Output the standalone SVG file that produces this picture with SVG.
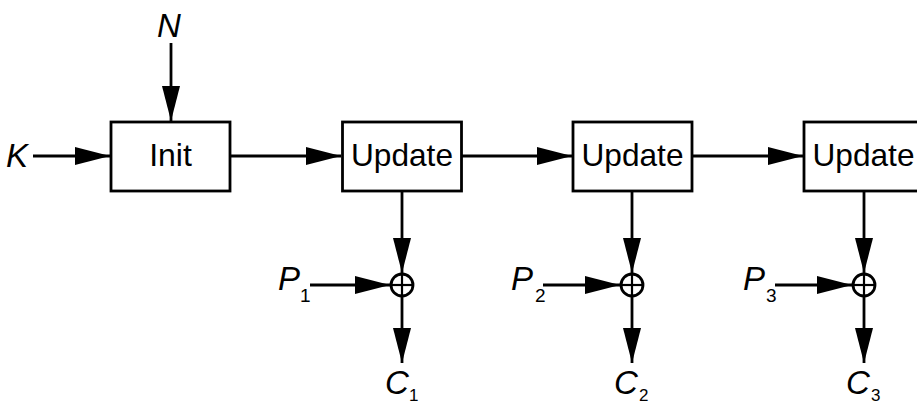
<svg xmlns="http://www.w3.org/2000/svg" width="917" height="406" viewBox="0 0 917 406">
<style>
.box{fill:#fff;stroke:#000;stroke-width:2.8}
.lbl{font-family:"Liberation Sans","DejaVu Sans",sans-serif;font-size:32px;fill:#000}
.var{font-family:"Liberation Sans","DejaVu Sans",sans-serif;font-size:33px;font-style:italic;fill:#000}
.sub{font-family:"Liberation Sans","DejaVu Sans",sans-serif;font-size:19px;fill:#000}
.sub2{font-family:"Liberation Sans","DejaVu Sans",sans-serif;font-size:17px;fill:#000}
.ln{stroke:#000;stroke-width:2.8;fill:none}
.xor{fill:#fff;stroke:#000;stroke-width:2.8}
.cr{stroke:#000;stroke-width:2.2}
</style>
<defs>
<marker id="ah" markerUnits="userSpaceOnUse" markerWidth="36" markerHeight="20" refX="35" refY="9" orient="auto" viewBox="0 0 36 18">
<path d="M0,0 L35,9 L0,18 z" fill="#000"/>
</marker>
</defs>
<rect width="917" height="406" fill="#fff"/>
<g id="connectors">
<line class="ln" x1="171" y1="43" x2="171" y2="121" marker-end="url(#ah)"/>
<line class="ln" x1="33" y1="156" x2="110" y2="156" marker-end="url(#ah)"/>
<line class="ln" x1="231" y1="156" x2="341" y2="156" marker-end="url(#ah)"/>
<line class="ln" x1="462" y1="156" x2="572" y2="156" marker-end="url(#ah)"/>
<line class="ln" x1="693" y1="156" x2="803" y2="156" marker-end="url(#ah)"/>
<line class="ln" x1="402" y1="192" x2="402" y2="273" marker-end="url(#ah)"/>
<line class="ln" x1="632" y1="192" x2="632" y2="273" marker-end="url(#ah)"/>
<line class="ln" x1="864" y1="192" x2="864" y2="273" marker-end="url(#ah)"/>
<line class="ln" x1="310" y1="285" x2="390" y2="285" marker-end="url(#ah)"/>
<line class="ln" x1="543" y1="285" x2="620" y2="285" marker-end="url(#ah)"/>
<line class="ln" x1="775" y1="285" x2="852" y2="285" marker-end="url(#ah)"/>
<line class="ln" x1="402" y1="297" x2="402" y2="363" marker-end="url(#ah)"/>
<line class="ln" x1="632" y1="297" x2="632" y2="363" marker-end="url(#ah)"/>
<line class="ln" x1="864" y1="297" x2="864" y2="363" marker-end="url(#ah)"/>
</g>
<g id="init">
<rect class="box" x="111" y="122" width="119" height="69"/>
<text class="lbl" x="170.5" y="166" text-anchor="middle">Init</text>
</g>
<g id="update1">
<rect class="box" x="342.5" y="122" width="119" height="69"/>
<text class="lbl" x="402" y="166" text-anchor="middle" textLength="102" lengthAdjust="spacingAndGlyphs">Update</text>
</g>
<g id="update2">
<rect class="box" x="573" y="122" width="119" height="69"/>
<text class="lbl" x="632.5" y="166" text-anchor="middle" textLength="102" lengthAdjust="spacingAndGlyphs">Update</text>
</g>
<g id="update3">
<rect class="box" x="804" y="122" width="119" height="69"/>
<text class="lbl" x="863.5" y="166" text-anchor="middle" textLength="102" lengthAdjust="spacingAndGlyphs">Update</text>
</g>
<g id="xor1">
<circle class="xor" cx="402" cy="285" r="11"/>
<line class="cr" x1="391" y1="285" x2="413" y2="285"/>
<line class="cr" x1="402" y1="274" x2="402" y2="296"/>
</g>
<g id="xor2">
<circle class="xor" cx="632" cy="285" r="11"/>
<line class="cr" x1="621" y1="285" x2="643" y2="285"/>
<line class="cr" x1="632" y1="274" x2="632" y2="296"/>
</g>
<g id="xor3">
<circle class="xor" cx="864" cy="285" r="11"/>
<line class="cr" x1="853" y1="285" x2="875" y2="285"/>
<line class="cr" x1="864" y1="274" x2="864" y2="296"/>
</g>
<g id="label-N"><text class="var" x="157" y="37">N</text></g>
<g id="label-K"><text class="var" x="6" y="167">K</text></g>
<g id="label-P1"><text class="var" x="278" y="290">P</text><text class="sub" x="300" y="302">1</text></g>
<g id="label-P2"><text class="var" x="511" y="290">P</text><text class="sub" x="535" y="302">2</text></g>
<g id="label-P3"><text class="var" x="743" y="290">P</text><text class="sub" x="766" y="302">3</text></g>
<g id="label-C1"><text class="var" x="385" y="394">C</text><text class="sub2" x="409" y="401">1</text></g>
<g id="label-C2"><text class="var" x="614" y="394">C</text><text class="sub2" x="639" y="401">2</text></g>
<g id="label-C3"><text class="var" x="846" y="394">C</text><text class="sub2" x="871" y="401">3</text></g>
</svg>
